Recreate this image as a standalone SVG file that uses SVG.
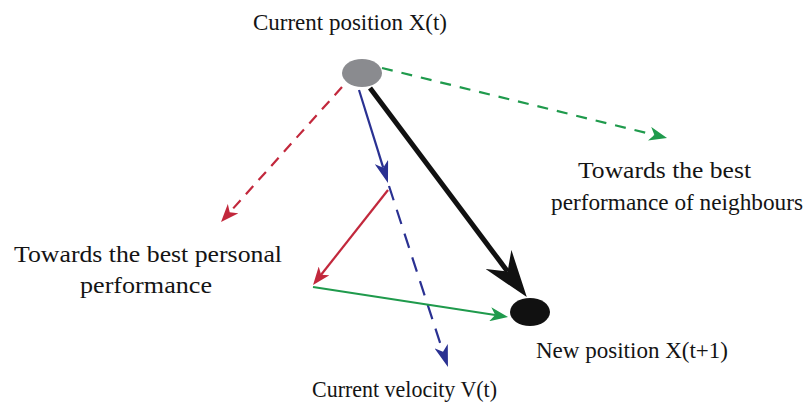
<svg xmlns="http://www.w3.org/2000/svg" width="805" height="403" viewBox="0 0 805 403">
  <style>
    text { font-family: 'Liberation Serif', 'Times New Roman', Tinos, serif; font-size: 23px; fill: #141414; }
    .ln { fill: none; stroke-linecap: butt; }
    .g { stroke: #1f9a4c; stroke-width: 2.2; }
    .r { stroke: #c2283c; stroke-width: 2.2; }
    .b { stroke: #2a3192; stroke-width: 2.2; }
    .k { stroke: #111111; stroke-width: 5; }
    .dg { stroke-dasharray: 11 9; }
    .dr { stroke-dasharray: 11 8; }
    .db { stroke-dasharray: 15 10; }
  </style>
  <defs>
    <marker id="ahG" markerUnits="userSpaceOnUse" viewBox="0 -7 18 14" markerWidth="18" markerHeight="14" refX="5" refY="0" orient="auto">
      <path d="M0,-7 L18,0 L0,7 L5,0 Z" fill="#1f9a4c"/>
    </marker>
    <marker id="ahR" markerUnits="userSpaceOnUse" viewBox="0 -7 18 14" markerWidth="18" markerHeight="14" refX="5" refY="0" orient="auto">
      <path d="M0,-7 L18,0 L0,7 L5,0 Z" fill="#c2283c"/>
    </marker>
    <marker id="ahB" markerUnits="userSpaceOnUse" viewBox="0 -7 22 14" markerWidth="22" markerHeight="14" refX="6" refY="0" orient="auto">
      <path d="M0,-7 L22,0 L0,7 L6,0 Z" fill="#2a3192"/>
    </marker>
    <marker id="ahK" markerUnits="userSpaceOnUse" viewBox="0 -16 47 32" markerWidth="47" markerHeight="32" refX="15" refY="0" orient="auto">
      <path d="M0,-16 L47,0 L0,16 L15,0 Z" fill="#111111"/>
    </marker>
  </defs>
  <rect width="805" height="403" fill="#ffffff"/>

  <g id="connectors">
    <line id="to-neighbours" class="ln g dg" x1="382" y1="68" x2="654.4" y2="134.9" marker-end="url(#ahG)"/>
    <line id="to-personal" class="ln r dr" x1="342" y1="87" x2="229.7" y2="212.3" marker-end="url(#ahR)"/>
    <line id="velocity" class="ln b" x1="359" y1="90" x2="383.2" y2="167.7" marker-end="url(#ahB)"/>
    <line id="velocity-ext" class="ln b db" x1="389" y1="186" x2="443" y2="351.8" marker-end="url(#ahB)"/>
    <line id="personal-comp" class="ln r" x1="388" y1="190" x2="321.1" y2="274.8" marker-end="url(#ahR)"/>
    <line id="social-comp" class="ln g" x1="313" y1="287" x2="495.2" y2="315" marker-end="url(#ahG)"/>
    <line id="move" class="ln k" x1="370" y1="88" x2="507.6" y2="271.5" marker-end="url(#ahK)"/>
  </g>

  <g id="node-current">
    <ellipse cx="362" cy="73" rx="20" ry="14" fill="#8a8b8f"/>
    <text font-family="Liberation Serif" x="253" y="30" textLength="194" lengthAdjust="spacingAndGlyphs">Current position X(t)</text>
  </g>
  <g id="node-new">
    <ellipse cx="530" cy="312" rx="20" ry="14" fill="#111111"/>
    <text font-family="Liberation Serif" x="536" y="358" textLength="192" lengthAdjust="spacingAndGlyphs">New position X(t+1)</text>
  </g>
  <g id="label-neighbours">
    <text font-family="Liberation Serif" x="578" y="178" textLength="173" lengthAdjust="spacingAndGlyphs">Towards the best</text>
    <text font-family="Liberation Serif" x="551" y="210" textLength="252" lengthAdjust="spacingAndGlyphs">performance of neighbours</text>
  </g>
  <g id="label-personal">
    <text font-family="Liberation Serif" x="14" y="262" textLength="268" lengthAdjust="spacingAndGlyphs">Towards the best personal</text>
    <text font-family="Liberation Serif" x="80" y="293" textLength="132" lengthAdjust="spacingAndGlyphs">performance</text>
  </g>
  <g id="label-velocity">
    <text font-family="Liberation Serif" x="312" y="397" textLength="185" lengthAdjust="spacingAndGlyphs">Current velocity V(t)</text>
  </g>
</svg>
